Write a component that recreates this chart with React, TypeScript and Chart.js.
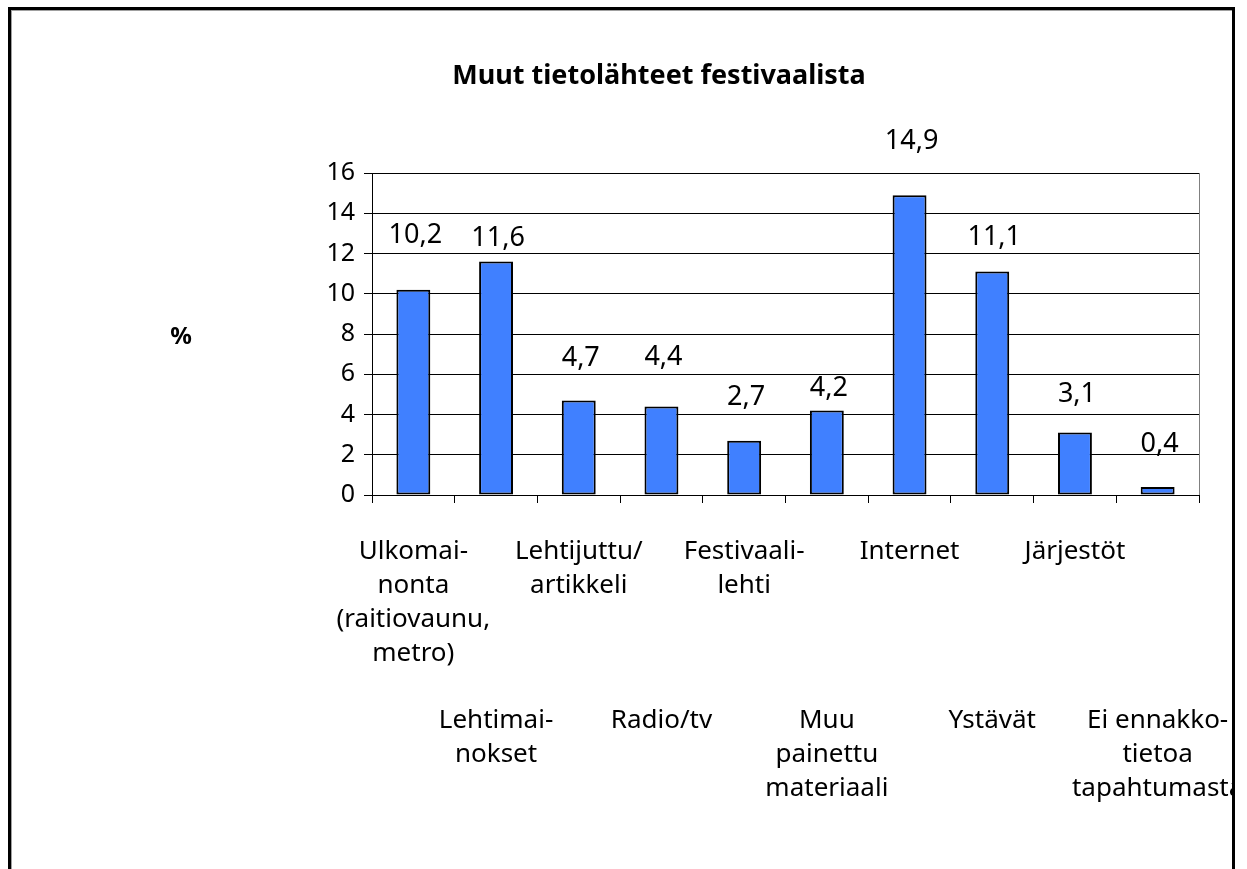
import React, { useEffect, useRef } from 'react';
import { Chart, registerables } from 'chart.js';

Chart.register(...registerables);

// ---- data ----
const TITLE = 'Muut tietolähteet festivaalista';
const Y_TITLE = '%';
const CATEGORIES: string[][] = [
  ['Ulkomai-', 'nonta', '(raitiovaunu,', 'metro)'],
  ['Lehtimai-', 'nokset'],
  ['Lehtijuttu/', 'artikkeli'],
  ['Radio/tv'],
  ['Festivaali-', 'lehti'],
  ['Muu', 'painettu', 'materiaali'],
  ['Internet'],
  ['Ystävät'],
  ['Järjestöt'],
  ['Ei ennakko-', 'tietoa', 'tapahtumasta'],
];
const VALUES = [10.2, 11.6, 4.7, 4.4, 2.7, 4.2, 14.9, 11.1, 3.1, 0.4];
const Y_MIN = 0;
const Y_MAX = 16;
const Y_STEP = 2;

// ---- style ----
const FONT = '"Noto Sans", "DejaVu Sans", sans-serif';
const BAR_COLOR = '#4080ff';
const LABEL_LIFT = [54, 23, 42, 49, 43, 22, 54, 34, 38, 43]; // px from bar top to value label centre
const STAGGER_LINES = 5;

const fmt = (v: number) => v.toFixed(1).replace('.', ',');

const valueLabels = {
  id: 'valueLabels',
  afterDatasetsDraw(chart: any) {
    const meta = chart.getDatasetMeta(0);
    const ctx = chart.ctx;
    ctx.save();
    ctx.font = `27px ${FONT}`;
    ctx.fillStyle = '#000';
    ctx.textAlign = 'center';
    ctx.textBaseline = 'middle';
    meta.data.forEach((bar: any, i: number) => {
      const v = chart.data.datasets[0].data[i];
      ctx.fillText(fmt(v), bar.x + 2, bar.y - LABEL_LIFT[i]);
    });
    ctx.restore();
  },
};

const yTitle = {
  id: 'yTitle',
  afterDraw(chart: any) {
    const { ctx, chartArea } = chart;
    ctx.save();
    ctx.font = `bold 24px ${FONT}`;
    ctx.fillStyle = '#000';
    ctx.textAlign = 'center';
    ctx.textBaseline = 'middle';
    ctx.fillText(Y_TITLE, chartArea.left - 191, (chartArea.top + chartArea.bottom) / 2 + 3);
    ctx.restore();
  },
};

export default function App() {
  const ref = useRef<HTMLCanvasElement>(null);

  useEffect(() => {
    if (!ref.current) return;
    const chart = new Chart(ref.current, {
      type: 'bar',
      data: {
        labels: CATEGORIES.map((c) => c.join(' ')),
        datasets: [
          {
            data: VALUES,
            backgroundColor: BAR_COLOR,
            borderColor: '#000',
            borderWidth: 2,
            borderSkipped: false,
            barPercentage: 0.41,
            categoryPercentage: 1,
          },
        ],
      },
      options: {
        responsive: false,
        animation: false,
        events: [],
        layout: { padding: { left: 108, right: 33, top: 0, bottom: 0 } },
        plugins: {
          legend: { display: false },
          tooltip: { enabled: false },
          title: {
            display: true,
            text: TITLE,
            color: '#000',
            font: { family: FONT, size: 27, weight: 'bold', lineHeight: 1.2 },
            padding: { top: 50, bottom: 80.6 },
          },
        },
        scales: {
          x: {
            grid: {
              offset: true,
              drawOnChartArea: true,
              color: (c: any) => (c.type === 'scale' ? '#808080' : 'rgba(0,0,0,0)'),
              tickColor: '#000',
              tickLength: 8,
            },
            border: { display: true, color: '#000', width: 1 },
            ticks: {
              autoSkip: false,
              maxRotation: 0,
              minRotation: 0,
              padding: 32,
              color: '#000',
              font: { family: FONT, size: 26, lineHeight: 1.3 },
              callback: (_v: any, i: number) =>
                i % 2 === 1 ? [...Array(STAGGER_LINES).fill(''), ...CATEGORIES[i]] : CATEGORIES[i],
            },
            afterFit: (s: any) => {
              s.height = 374;
              s.paddingLeft = 0;
              s.paddingRight = 0;
            },
          },
          y: {
            min: Y_MIN,
            max: Y_MAX,
            grid: { color: '#000', tickColor: '#000', tickLength: 8, lineWidth: 1 },
            border: { display: true, color: '#000', width: 1 },
            ticks: {
              stepSize: Y_STEP,
              padding: 9,
              color: '#000',
              font: { family: FONT, size: 25 },
            },
            afterFit: (s: any) => {
              s.width = 253;
            },
          },
        },
      },
      plugins: [valueLabels, yTitle],
    });
    return () => chart.destroy();
  }, []);

  return (
    <div
      style={{
        position: 'absolute',
        left: 8,
        top: 7,
        width: 1221,
        height: 859,
        borderStyle: 'solid',
        borderColor: '#000',
        borderWidth: '3px 3px 0 3px',
        overflow: 'hidden',
        background: '#fff',
        boxShadow: 'inset 1px 1px 0 #a0a0a0',
      }}
    >
      <canvas ref={ref} width={1221} height={859} style={{ display: 'block' }} />
    </div>
  );
}
